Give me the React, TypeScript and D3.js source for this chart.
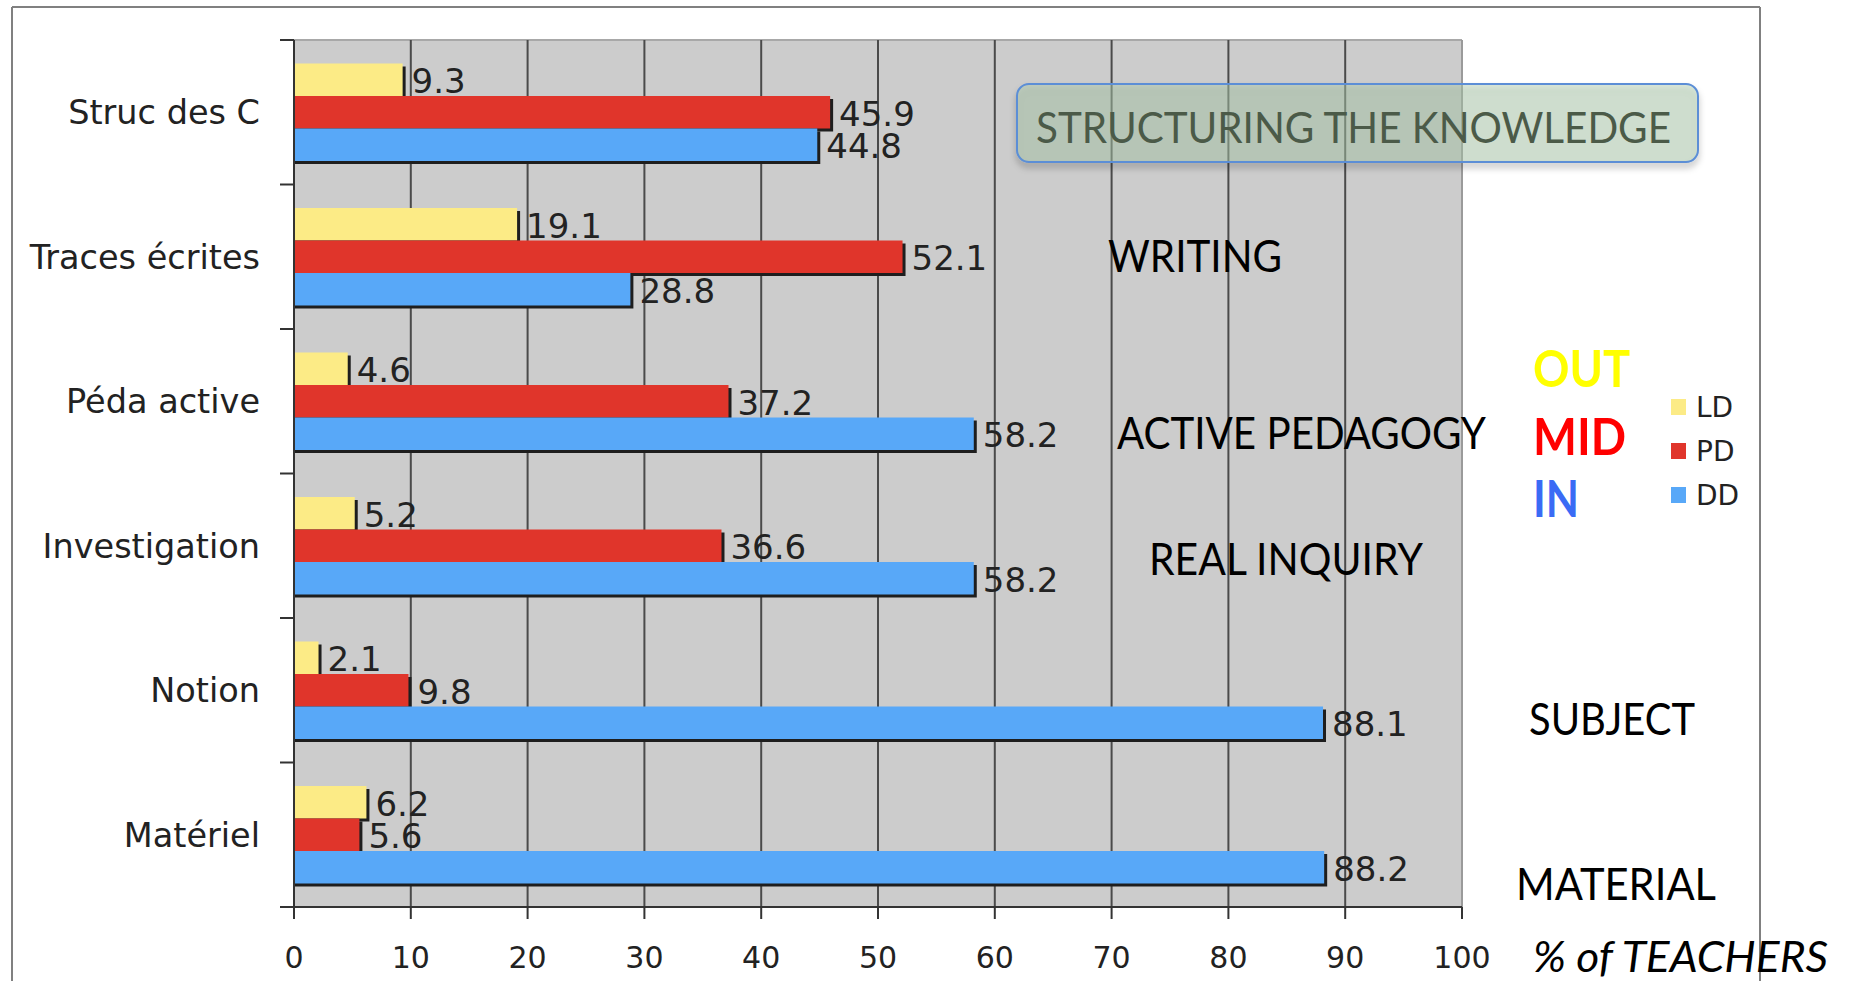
import React from "react";
import * as d3 from "d3";

const categories = ["Struc des C", "Traces écrites", "Péda active", "Investigation", "Notion", "Matériel"];
const seriesNames = ["LD", "PD", "DD"];
const ldValues = [9.3, 19.1, 4.6, 5.2, 2.1, 6.2];
const pdValues = [45.9, 52.1, 37.2, 36.6, 9.8, 5.6];
const ddValues = [44.8, 28.8, 58.2, 58.2, 88.1, 88.2];
const xTicks = [0, 10, 20, 30, 40, 50, 60, 70, 80, 90, 100];
const levelWords = ["OUT", "MID", "IN"];
const rowNotes = ["WRITING", "ACTIVE PEDAGOGY", "REAL INQUIRY", "SUBJECT", "MATERIAL"];
const boxNote = "STRUCTURING THE KNOWLEDGE";
const axisNote = "% of TEACHERS";

const W = 1852;
const H = 981;
const plotL = 294, plotR = 1462, plotT = 40, plotB = 907;
const barColors = ["#FCEB86", "#E0352B", "#58A8F8"];
const levelColors = ["#FFFF00", "#FF0000", "#3A6BF5"];
const sansFont = "'DejaVu Sans', Verdana, sans-serif";
const noteFont = "Lato, 'Open Sans', sans-serif";

export default function App() {
  const x = d3.scaleLinear().domain([0, 100]).range([plotL, plotR]);
  const y = d3.scaleBand<string>().domain(categories).range([plotT, plotB]).padding(0);
  const bw = y.bandwidth();
  const pad = 23.5;
  const inner = d3.scaleBand<string>().domain(seriesNames).range([pad, bw - pad]).padding(0);
  const bh = inner.bandwidth();
  const seriesVals = [ldValues, pdValues, ddValues];

  const bars: { key: string; x0: number; x1: number; y0: number; h: number; color: string; v: number }[] = [];
  categories.forEach((c, ci) => {
    seriesNames.forEach((s, si) => {
      const v = seriesVals[si][ci];
      bars.push({
        key: c + s,
        x0: x(0),
        x1: x(v),
        y0: (y(c) as number) + (inner(s) as number),
        h: bh,
        color: barColors[si],
        v,
      });
    });
  });

  const rowNotePos = [
    { x: 1108, y: 272, w: 174 },
    { x: 1117, y: 449, w: 369 },
    { x: 1149, y: 575, w: 274 },
    { x: 1529, y: 735, w: 166 },
    { x: 1516, y: 900, w: 200 },
  ];
  const levelPos = [
    { y: 387, w: 97 },
    { y: 455, w: 93 },
    { y: 517, w: 46 },
  ];

  return (
    <svg width={W} height={H} style={{ position: "fixed", left: 0, top: 0, background: "#fff" }}>
      <defs>
        <filter id="boxShadow" x="-10%" y="-30%" width="120%" height="170%">
          <feDropShadow dx="0" dy="5" stdDeviation="3" floodColor="#000" floodOpacity="0.3" />
        </filter>
      </defs>
      <line x1={12} y1={7} x2={1760} y2={7} stroke="#808080" strokeWidth={2} />
      <line x1={12} y1={7} x2={12} y2={H} stroke="#808080" strokeWidth={2} />
      <line x1={1760} y1={7} x2={1760} y2={H} stroke="#808080" strokeWidth={2} />

      <rect x={plotL} y={plotT} width={plotR - plotL} height={plotB - plotT} fill="#CCCCCC" />
      <line x1={plotL} y1={plotT} x2={plotR} y2={plotT} stroke="#A8A8A8" strokeWidth={2} />
      <line x1={plotR} y1={plotT} x2={plotR} y2={plotB} stroke="#9A9A9A" strokeWidth={2} />

      {xTicks.slice(1, -1).map((t) => (
        <line key={"g" + t} x1={x(t)} x2={x(t)} y1={plotT} y2={plotB} stroke="#4A4A4A" strokeWidth={2} />
      ))}

      {bars.map((b) => (
        <rect key={"s" + b.key} x={b.x0} y={b.y0 + 3} width={b.x1 - b.x0 + 3} height={b.h} fill="#1E1E1E" />
      ))}
      {bars.map((b) => (
        <rect key={"b" + b.key} x={b.x0} y={b.y0} width={b.x1 - b.x0} height={b.h} fill={b.color} />
      ))}
      {bars.map((b) => (
        <text key={"l" + b.key} x={b.x1 + 9} y={b.y0 + b.h - 3} fontFamily={sansFont} fontSize={34} fill="#222">
          {b.v.toFixed(1)}
        </text>
      ))}

      <line x1={plotL} y1={plotT} x2={plotL} y2={plotB} stroke="#333" strokeWidth={2} />
      <line x1={plotL - 14} y1={plotB} x2={plotR} y2={plotB} stroke="#333" strokeWidth={2} />
      {categories.map((c) => (
        <line key={"yt" + c} x1={plotL - 14} x2={plotL} y1={y(c) as number} y2={y(c) as number} stroke="#333" strokeWidth={2} />
      ))}
      {xTicks.map((t) => (
        <line key={"xt" + t} x1={x(t)} x2={x(t)} y1={plotB} y2={plotB + 12} stroke="#333" strokeWidth={2} />
      ))}
      {xTicks.map((t) => (
        <text key={"xl" + t} x={x(t)} y={968} textAnchor="middle" fontFamily={sansFont} fontSize={30} fill="#222">
          {t}
        </text>
      ))}
      {categories.map((c) => (
        <text key={"yl" + c} x={260} y={(y(c) as number) + bw / 2 + 12} textAnchor="end" fontFamily={sansFont} fontSize={33.5} fill="#222">
          {c}
        </text>
      ))}

      <rect x={1017} y={84} width={681} height={78} rx={12} fill="rgb(174,204,173)" fillOpacity={0.45} stroke="#5B8ED6" strokeWidth={2} filter="url(#boxShadow)" />
      <text x={1036} y={143} fontFamily={noteFont} fontSize={43} fill="#4B5A48" textLength={635} lengthAdjust="spacingAndGlyphs">
        {boxNote}
      </text>

      {rowNotes.map((n, i) => (
        <text key={n} x={rowNotePos[i].x} y={rowNotePos[i].y} fontFamily={noteFont} fontSize={44} fill="#000" textLength={rowNotePos[i].w} lengthAdjust="spacingAndGlyphs">
          {n}
        </text>
      ))}

      {levelWords.map((w, i) => (
        <text key={w} x={1533} y={levelPos[i].y} fontFamily={noteFont} fontWeight="bold" fontSize={52} fill={levelColors[i]} textLength={levelPos[i].w} lengthAdjust="spacingAndGlyphs">
          {w}
        </text>
      ))}

      {seriesNames.map((s, i) => (
        <g key={"lg" + s}>
          <rect x={1671} y={399 + i * 44} width={15} height={16} fill={barColors[i]} />
          <text x={1696} y={417 + i * 44} fontFamily={sansFont} fontSize={28} fill="#222">
            {s}
          </text>
        </g>
      ))}

      <text x={1533} y={972} fontFamily={noteFont} fontStyle="italic" fontSize={43} fill="#000" textLength={295} lengthAdjust="spacingAndGlyphs">
        {axisNote}
      </text>
    </svg>
  );
}
